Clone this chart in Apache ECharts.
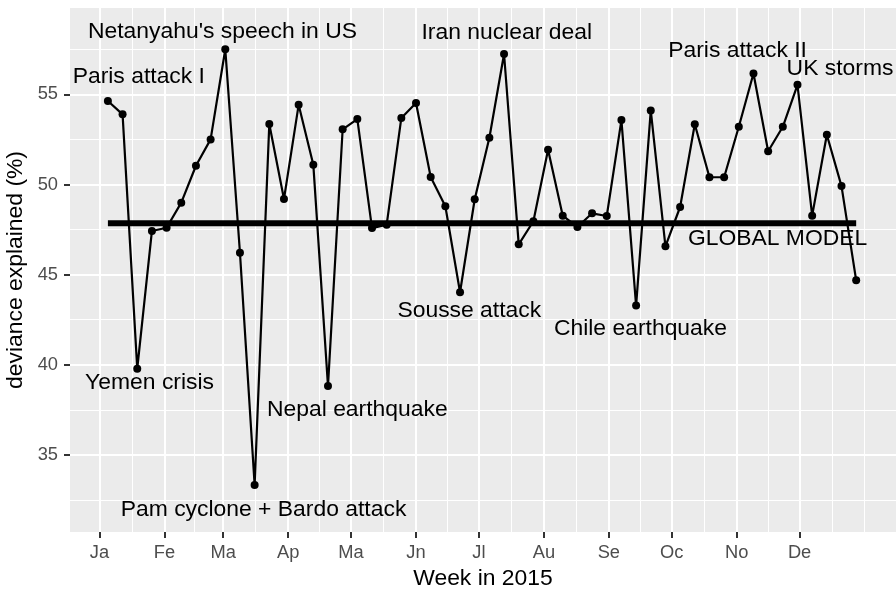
<!DOCTYPE html>
<html><head><meta charset="utf-8">
<script src="https://cdn.jsdelivr.net/npm/echarts@6/dist/echarts.min.js"></script>
<style>html,body{margin:0;padding:0;background:#fff}#c{width:896px;height:590px}</style>
</head><body><div id="c"></div>
<script>
// ---- data ----
const weeks = ['2015-01-05','2015-01-12','2015-01-19','2015-01-26','2015-02-02','2015-02-09','2015-02-16','2015-02-23',
  '2015-03-02','2015-03-09','2015-03-16','2015-03-23','2015-03-30','2015-04-06','2015-04-13','2015-04-20','2015-04-27',
  '2015-05-04','2015-05-11','2015-05-18','2015-05-25','2015-06-01','2015-06-08','2015-06-15','2015-06-22','2015-06-29',
  '2015-07-06','2015-07-13','2015-07-20','2015-07-27','2015-08-03','2015-08-10','2015-08-17','2015-08-24','2015-08-31',
  '2015-09-07','2015-09-14','2015-09-21','2015-09-28','2015-10-05','2015-10-12','2015-10-19','2015-10-26',
  '2015-11-02','2015-11-09','2015-11-16','2015-11-23','2015-11-30','2015-12-07','2015-12-14','2015-12-21','2015-12-28'];
const deviance = [54.63,53.89,39.78,47.42,47.60,48.99,51.04,52.50,
  57.50,46.21,33.33,53.35,49.19,54.42,51.10,38.82,53.06,
  53.63,47.58,47.77,53.69,54.52,50.41,48.79,44.02,49.18,
  52.59,57.24,46.68,47.96,51.93,48.27,47.64,48.40,48.25,
  53.57,43.28,54.11,46.57,48.75,53.34,50.40,50.40,
  53.20,56.16,51.84,53.20,55.53,48.27,52.76,49.91,44.68];
const globalModel = 47.85;
const eventLabels = ['Paris attack I',"Netanyahu's speech in US",'Iran nuclear deal','Paris attack II','UK storms',
  'GLOBAL MODEL','Yemen crisis','Nepal earthquake','Pam cyclone + Bardo attack','Sousse attack','Chile earthquake'];
const eventDates = ['2015-01-19 18:00','2015-02-28 16:00','2015-07-14 07:00','2015-11-01 10:00','2015-12-20 07:00',
  '2015-11-20 12:00','2015-01-24 21:00','2015-05-04 00:00','2015-03-20 06:00','2015-06-26 10:00','2015-09-16 02:00'];
const eventValues = [55.96,58.47,58.43,57.41,56.41,47.01,39.00,37.52,31.94,43.00,42.00];
const monthTicks = ['2015-01-01','2015-02-01','2015-03-01','2015-04-01','2015-05-01','2015-06-01',
  '2015-07-01','2015-08-01','2015-09-01','2015-10-01','2015-11-01','2015-12-01'];
const monthLabels = ['Ja','Fe','Ma','Ap','Ma','Jn','Jl','Au','Se','Oc','No','De'];
const yTicks = [35,40,45,50,55];
const yMinor = [32.5,37.5,42.5,47.5,52.5,57.5];
const xRange = ['2014-12-17 22:00','2016-01-16 00:00'];
const yRange = [30.72, 59.79];

function ts(s){
  const p = s.split(' '); const d = p[0].split('-').map(Number);
  let h = 0, mi = 0; if (p[1]) { const t = p[1].split(':').map(Number); h = t[0]; mi = t[1]; }
  return new Date(d[0], d[1]-1, d[2], h, mi).getTime();
}
const monthTs = monthTicks.map(ts);
// ggplot-style minor breaks: midpoints between majors plus one extrapolated break
const step = monthTs[1] - monthTs[0];
const ext = monthTs.concat([monthTs[monthTs.length-1] + step]);
const minorTs = [];
for (let i = 0; i < ext.length - 1; i++) minorTs.push((ext[i] + ext[i+1]) / 2);
minorTs.push(ext[ext.length-1]);

const font = '"Liberation Sans", Arial, Helvetica, sans-serif';
const chart = echarts.init(document.getElementById('c'), null, {renderer:'canvas'});
const xMin = ts(xRange[0]), xMax = ts(xRange[1]);
function monthLabel(v){
  let best = 0, bd = Infinity;
  monthTs.forEach((m,i)=>{ const d = Math.abs(m - v); if (d < bd) { bd = d; best = i; } });
  return monthLabels[best];
}
chart.setOption({
  animation: false,
  grid: {left:70, right:0, top:8, bottom:58, show:true, backgroundColor:'#EBEBEB', borderWidth:0,
         containLabel:false, outerBoundsMode:'none'},
  xAxis: [
    {type:'value', min:xMin, max:xMax,
     axisLine:{show:false},
     axisTick:{show:true, length:6, lineStyle:{color:'#333333', width:2}, customValues: monthTs},
     axisLabel:{show:true, customValues: monthTs, formatter: v => monthLabel(v), color:'#4D4D4D', fontSize:18.3, fontFamily:font, margin:12, hideOverlap:false},
     splitLine:{show:true, lineStyle:{color:'#FFFFFF', width:2}},
     name:'Week in 2015', nameLocation:'middle', nameGap:35,
     nameTextStyle:{color:'#000', fontSize:22.9, fontFamily:font}
    },
    {type:'value', min:xMin, max:xMax, position:'bottom',
     axisLine:{show:false},
     axisTick:{show:false, customValues: minorTs},
     axisLabel:{show:false, customValues: minorTs},
     splitLine:{show:true, lineStyle:{color:'#FFFFFF', width:1}}
    }
  ],
  yAxis: [
    {type:'value', min:yRange[0], max:yRange[1],
     axisLine:{show:false},
     axisTick:{show:true, length:6, lineStyle:{color:'#333333', width:2}, customValues: yTicks},
     axisLabel:{show:true, customValues: yTicks, color:'#4D4D4D', fontSize:18.3, fontFamily:font, margin:12},
     splitLine:{show:true, lineStyle:{color:'#FFFFFF', width:2}},
     name:'deviance explained (%)', nameLocation:'middle', nameGap:35, nameRotate:90,
     nameTextStyle:{color:'#000', fontSize:22.9, fontFamily:font}
    },
    {type:'value', min:yRange[0], max:yRange[1], position:'left',
     axisLine:{show:false},
     axisTick:{show:false, customValues: yMinor},
     axisLabel:{show:false, customValues: yMinor},
     splitLine:{show:true, lineStyle:{color:'#FFFFFF', width:1}}
    }
  ],
  series: [
    {type:'line', xAxisIndex:0, yAxisIndex:0, symbol:'none', silent:true,
     data:[[ts(weeks[0]), globalModel],[ts(weeks[weeks.length-1]), globalModel]],
     lineStyle:{color:'#000', width:6}, z:2},
    {type:'line', xAxisIndex:0, yAxisIndex:0, symbol:'circle', symbolSize:8, showAllSymbol:true,
     data: weeks.map((w,i)=>[ts(w), deviance[i]]),
     lineStyle:{color:'#000', width:2.2}, itemStyle:{color:'#000', opacity:1}, z:3},
    {type:'scatter', xAxisIndex:0, yAxisIndex:0, symbolSize:0, silent:true,
     data: eventLabels.map((n,i)=>({name:n, value:[ts(eventDates[i]), eventValues[i]]})),
     label:{show:true, position:[0,0], align:'center', verticalAlign:'middle', formatter:'{b}',
            color:'#000000', opacity:1, textBorderWidth:0, fontSize:22.9, fontFamily:font},
     itemStyle:{color:'#000', opacity:1},
     z:4}
  ]
});
</script>
</body></html>
